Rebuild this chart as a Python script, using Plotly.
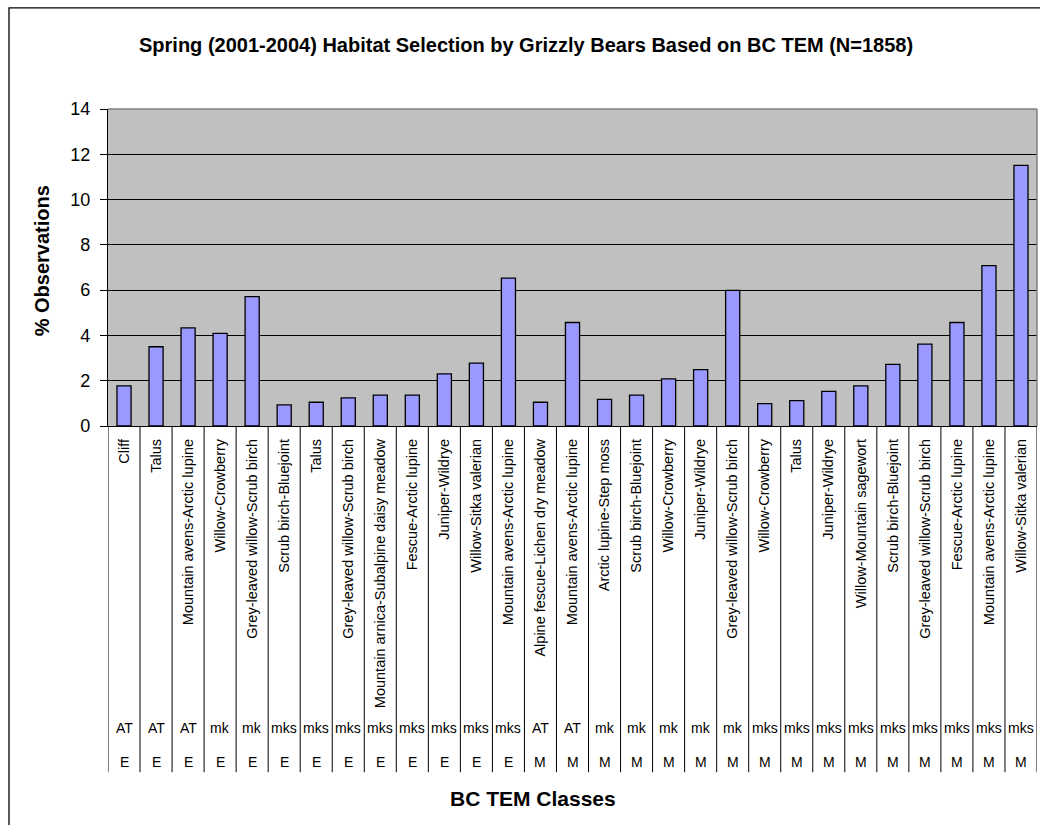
import plotly.graph_objects as go

# Habitat classes (BC TEM), in the order plotted
habitats = [
    "Cliff", "Talus", "Mountain avens-Arctic lupine", "Willow-Crowberry",
    "Grey-leaved willow-Scrub birch", "Scrub birch-Bluejoint", "Talus",
    "Grey-leaved willow-Scrub birch", "Mountain arnica-Subalpine daisy meadow",
    "Fescue-Arctic lupine", "Juniper-Wildrye", "Willow-Sitka valerian",
    "Mountain avens-Arctic lupine", "Alpine fescue-Lichen dry meadow",
    "Mountain avens-Arctic lupine", "Arctic lupine-Step moss",
    "Scrub birch-Bluejoint", "Willow-Crowberry", "Juniper-Wildrye",
    "Grey-leaved willow-Scrub birch", "Willow-Crowberry", "Talus",
    "Juniper-Wildrye", "Willow-Mountain sagewort", "Scrub birch-Bluejoint",
    "Grey-leaved willow-Scrub birch", "Fescue-Arctic lupine",
    "Mountain avens-Arctic lupine", "Willow-Sitka valerian",
]
zones = [
    "AT", "AT", "AT", "mk", "mk", "mks", "mks", "mks", "mks", "mks", "mks",
    "mks", "mks", "AT", "AT", "mk", "mk", "mk", "mk", "mk", "mks", "mks",
    "mks", "mks", "mks", "mks", "mks", "mks", "mks",
]
regions = ["E"] * 13 + ["M"] * 16

# Percent of observations per class
pct_obs = [
    1.77, 3.50, 4.33, 4.09, 5.71, 0.93, 1.05, 1.24, 1.36, 1.36, 2.30, 2.78,
    6.53, 1.05, 4.57, 1.18, 1.36, 2.08, 2.49, 5.99, 0.99, 1.12, 1.53, 1.77,
    2.72, 3.62, 4.57, 7.08, 11.51,
]

y_ticks = [0, 2, 4, 6, 8, 10, 12, 14]

FONT = "Liberation Sans, Arial, sans-serif"
W, H = 1040, 825
L, R, T, B = 108, 3, 108.6, 399.3
plot_h = H - T - B


def py(px):
    """Pixel row -> paper y coordinate."""
    return (H - B - px) / plot_h


def pxx(px):
    """Pixel column -> paper x coordinate."""
    return (px - L) / (W - L - R)


idx = list(range(len(habitats)))

fig = go.Figure(
    go.Bar(
        x=idx,
        y=pct_obs,
        width=0.44,
        marker=dict(color="#9999FF", line=dict(color="#000000", width=1.3)),
        hoverinfo="skip",
    )
)

shapes = []
# category separators running through the label table
for i in range(len(habitats) + 1):
    shapes.append(dict(
        type="line", xref="x", yref="paper",
        x0=i - 0.5, x1=i - 0.5, y0=0, y1=py(772),
        line=dict(color="#000000", width=1),
    ))
# plot-area frame (top and right)
shapes.append(dict(
    type="line", xref="paper", yref="paper", x0=0, x1=1, y0=1, y1=1,
    line=dict(color="#808080", width=1.5),
))
shapes.append(dict(
    type="line", xref="paper", yref="paper", x0=1, x1=1, y0=0, y1=1,
    line=dict(color="#808080", width=1.5),
))
# chart-area border
shapes.append(dict(
    type="rect", xref="paper", yref="paper",
    x0=pxx(9), x1=pxx(1060), y0=py(845), y1=py(7.5),
    line=dict(color="#000000", width=1.3), fillcolor="rgba(0,0,0,0)",
    layer="above",
))

annotations = []
for i, (z, r) in enumerate(zip(zones, regions)):
    annotations.append(dict(
        x=i, y=py(728), xref="x", yref="paper", text=z, showarrow=False,
        font=dict(family=FONT, size=14, color="#000000"),
        xanchor="center", yanchor="middle",
    ))
    annotations.append(dict(
        x=i, y=py(762), xref="x", yref="paper", text=r, showarrow=False,
        font=dict(family=FONT, size=14, color="#000000"),
        xanchor="center", yanchor="middle",
    ))

annotations.append(dict(
    x=pxx(533), y=py(798), xref="paper", yref="paper",
    text="<b>BC TEM Classes</b>", showarrow=False,
    font=dict(family=FONT, size=21, color="#000000"),
    xanchor="center", yanchor="middle",
))
annotations.append(dict(
    x=pxx(42), y=py(261), xref="paper", yref="paper",
    text="<b>% Observations</b>", showarrow=False, textangle=-90,
    font=dict(family=FONT, size=20, color="#000000"),
    xanchor="center", yanchor="middle",
))
annotations.append(dict(
    x=pxx(526), y=py(45), xref="paper", yref="paper",
    text="<b>Spring (2001-2004) Habitat Selection by Grizzly Bears Based on BC TEM (N=1858)</b>",
    showarrow=False,
    font=dict(family=FONT, size=20, color="#000000"),
    xanchor="center", yanchor="middle",
))

fig.update_layout(
    width=W, height=H,
    margin=dict(l=L, r=R, t=T, b=B, autoexpand=False),
    paper_bgcolor="#FFFFFF",
    plot_bgcolor="#C0C0C0",
    showlegend=False,
    bargap=0.56,
    font=dict(family=FONT, color="#000000"),
    shapes=shapes,
    annotations=annotations,
    xaxis=dict(
        range=[-0.5, len(habitats) - 0.5],
        tickmode="array", tickvals=idx, ticktext=habitats,
        tickangle=-90, ticks="", ticklabelstandoff=6,
        tickfont=dict(family=FONT, size=14.5, color="#000000"),
        showgrid=False, zeroline=False,
        showline=True, linecolor="#000000", linewidth=1.3,
        fixedrange=True, automargin=False,
    ),
    yaxis=dict(
        range=[0, 14], tickmode="array", tickvals=y_ticks,
        ticks="outside", ticklen=7, tickcolor="#000000", tickwidth=1,
        ticklabelstandoff=6,
        tickfont=dict(family=FONT, size=18, color="#000000"),
        showgrid=True, gridcolor="#000000", gridwidth=1,
        zeroline=False,
        showline=True, linecolor="#000000", linewidth=1.3,
        fixedrange=True, automargin=False,
    ),
)

fig.write_html("out.html")
